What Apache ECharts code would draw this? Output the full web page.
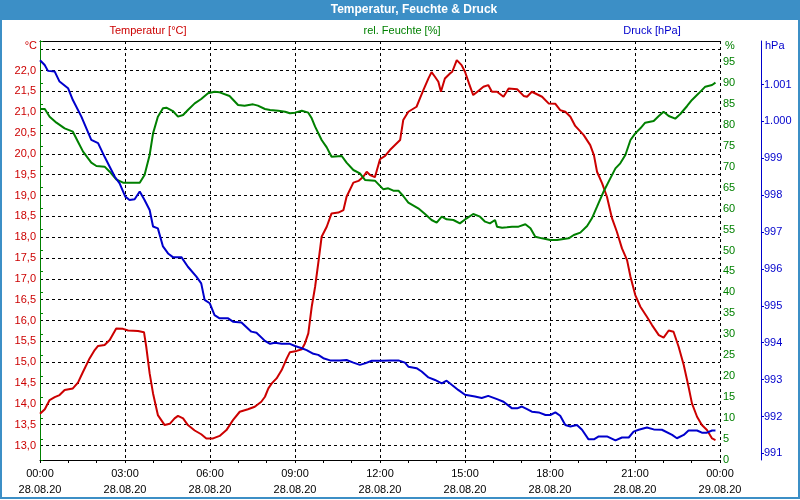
<!DOCTYPE html>
<html><head><meta charset="utf-8">
<script src="https://cdn.jsdelivr.net/npm/echarts@6/dist/echarts.min.js"></script>
<style>html,body{margin:0;padding:0;background:#fff}#c{width:800px;height:500px}</style>
</head><body><div id="c"></div>
<script>
// ---- data (hours since 28.08.20 00:00) ----
const tempHours = [0,0.17,0.34,0.52,0.69,0.87,1.16,1.34,1.52,1.75,1.93,2.05,2.28,2.46,2.69,2.93,3.11,3.46,3.67,3.75,3.87,3.99,4.16,4.40,4.58,4.75,4.87,5.05,5.22,5.46,5.69,5.87,6.11,6.34,6.58,6.81,7.05,7.34,7.58,7.81,
  7.94,8.06,8.18,8.35,8.53,8.71,8.82,9.06,9.24,9.35,9.47,9.59,9.71,9.82,9.94,10.12,10.29,10.53,10.71,10.82,11.06,11.24,11.41,11.53,11.65,11.82,12.0,12.18,12.35,12.53,12.71,12.82,13.0,13.29,13.41,13.53,13.71,13.82,13.94,14.06,14.15,14.29,14.47,14.55,14.71,14.88,15.0,15.14,15.29,15.47,15.65,15.82,
  15.95,16.13,16.36,16.54,16.84,17.07,17.19,17.36,17.54,17.72,17.95,18.19,18.36,18.54,18.72,18.89,19.19,19.42,19.55,19.66,19.84,20.01,20.19,20.36,20.54,20.72,20.84,21.01,21.19,21.42,21.6,21.84,22.01,22.19,22.36,22.54,22.72,22.89,23.01,23.19,23.36,23.54,23.72,23.84];
const tempValues = [13.76,13.87,14.09,14.16,14.21,14.33,14.37,14.51,14.77,15.09,15.29,15.39,15.41,15.53,15.81,15.80,15.76,15.75,15.72,15.37,14.73,14.25,13.73,13.49,13.52,13.65,13.71,13.65,13.49,13.36,13.27,13.17,13.17,13.23,13.37,13.61,13.81,13.87,13.93,14.05,
  14.17,14.37,14.49,14.61,14.81,15.09,15.24,15.27,15.31,15.45,15.69,16.33,16.81,17.37,18.01,18.25,18.57,18.59,18.65,18.97,19.31,19.35,19.45,19.57,19.49,19.44,19.87,19.95,20.09,20.21,20.33,20.81,21.01,21.13,21.33,21.53,21.81,21.96,21.85,21.73,21.49,21.81,21.93,21.97,22.25,22.13,21.97,21.69,21.41,21.51,21.61,21.65,
  21.49,21.49,21.37,21.57,21.55,21.39,21.37,21.49,21.43,21.37,21.21,21.20,21.05,21.01,20.89,20.67,20.45,20.21,19.97,19.57,19.29,18.97,18.45,18.13,17.73,17.45,17.05,16.61,16.33,16.09,15.89,15.65,15.59,15.76,15.73,15.37,14.93,14.41,14.01,13.69,13.49,13.37,13.17,13.13];

const humHours = [0,0.17,0.34,0.58,0.87,1.16,1.34,1.52,1.81,1.99,2.28,2.46,2.69,2.93,3.28,3.52,3.69,3.87,3.99,4.16,4.34,4.46,4.69,4.87,5.05,5.22,5.46,5.69,5.93,6.16,6.34,6.69,6.99,7.22,7.52,7.69,
  7.94,8.12,8.41,8.65,8.82,9.0,9.24,9.47,9.59,9.71,9.94,10.12,10.29,10.65,10.82,11.06,11.29,11.47,11.82,12.12,12.29,12.47,12.65,12.82,13.0,13.35,13.59,13.82,14.0,14.18,14.35,14.59,14.82,15.06,15.29,15.53,15.71,15.88,16.06,
  16.13,16.31,16.48,16.66,16.89,17.13,17.31,17.48,17.72,18.01,18.25,18.48,18.66,18.84,19.07,19.31,19.48,19.66,19.89,20.07,20.31,20.48,20.66,20.84,21.01,21.19,21.36,21.66,21.84,22.01,22.19,22.42,22.6,22.84,23.01,23.25,23.48,23.72,23.84];
const humValues = [83.77,83.77,81.94,80.51,79.16,78.36,75.97,73.59,70.96,70.17,70.01,68.81,66.98,66.19,66.19,66.19,68.02,72.79,77.96,81.94,83.93,84.09,83.29,81.94,82.34,83.53,85.12,86.16,87.51,87.91,87.75,86.87,84.73,84.57,84.88,84.57,
  83.77,83.53,83.37,83.13,82.74,82.90,83.37,82.90,81.54,79.55,76.37,74.62,72.39,72.55,70.96,69.21,68.42,66.83,66.67,64.60,64.84,64.28,64.28,63.01,61.42,60.06,58.71,57.28,56.64,58.07,57.44,57.28,56.48,57.68,58.71,58.07,56.88,56.48,57.28,
  55.69,55.45,55.53,55.69,55.69,56.25,55.29,53.30,52.90,52.51,52.51,52.74,52.90,53.70,54.26,55.85,57.68,60.46,64.04,66.43,69.61,70.80,72.79,76.37,77.96,79.16,80.51,80.91,82.10,83.13,82.10,81.46,82.58,84.49,85.92,87.51,89.10,89.50,90.06];

const pressHours = [0,0.165,0.28,0.52,0.69,0.99,1.16,1.46,1.81,2.05,2.28,2.64,2.81,3.01,3.16,3.34,3.52,3.69,3.87,3.99,4.16,4.34,4.52,4.69,4.99,5.22,5.52,5.69,5.81,5.99,6.16,6.34,6.64,6.81,7.11,7.46,7.64,
  7.94,8.12,8.29,8.53,8.82,9.0,9.24,9.41,9.65,9.82,10.0,10.24,10.59,10.82,11.06,11.29,11.47,11.71,12.06,12.35,12.65,12.88,13.0,13.29,13.47,13.71,13.94,14.18,14.35,14.53,14.76,15.0,15.35,15.59,15.82,
  16.13,16.36,16.66,16.84,17.01,17.19,17.36,17.6,17.84,18.01,18.19,18.36,18.54,18.72,18.95,19.13,19.36,19.55,19.72,20.01,20.31,20.54,20.78,20.95,21.13,21.42,21.66,21.95,22.31,22.48,22.72,22.89,23.19,23.36,23.54,23.72,23.84];
const pressValues = [1001.66,1001.53,1001.37,1001.35,1001.08,1000.90,1000.58,1000.13,999.50,999.41,999.04,998.50,998.32,997.96,997.87,997.89,998.10,997.87,997.60,997.15,997.10,996.61,996.42,996.32,996.32,996.06,995.79,995.61,995.16,995.07,994.75,994.66,994.66,994.57,994.55,994.30,994.27,
  994.05,993.97,994.00,993.97,993.97,993.91,993.85,993.80,993.70,993.67,993.58,993.52,993.52,993.53,993.46,993.40,993.44,993.51,993.51,993.52,993.52,993.46,993.35,993.31,993.22,993.06,992.99,992.90,992.97,992.86,992.72,992.59,992.54,992.50,992.56,
  992.47,992.40,992.22,992.22,992.27,992.20,992.13,992.11,992.04,992.04,992.11,992.02,991.77,991.73,991.77,991.64,991.38,991.38,991.46,991.46,991.35,991.43,991.43,991.59,991.64,991.70,991.65,991.64,991.50,991.41,991.50,991.62,991.62,991.56,991.56,991.62,991.62];

// ---- axis ticks / labels ----
const tempGridValues = [13.0,13.5,14.0,14.5,15.0,15.5,16.0,16.5,17.0,17.5,18.0,18.5,19.0,19.5,20.0,20.5,21.0,21.5,22.0,22.5];
const tempLabelValues = [13.0,13.5,14.0,14.5,15.0,15.5,16.0,16.5,17.0,17.5,18.0,18.5,19.0,19.5,20.0,20.5,21.0,21.5,22.0];
const pressTickValues = [991,992,993,994,995,996,997,998,999,1000,1001];
const timeDates = ['28.08.20','29.08.20'];

const FONT = '"Liberation Sans", Arial, sans-serif';
const RED = '#cc0000', GREEN = '#008000', BLUE = '#0000cc', BAR = '#3c8fc6';
const pair = (hs, vs) => hs.map((h, i) => [h, vs[i]]);
const dash = { color: '#000', type: [3, 3], width: 1 };

const chart = echarts.init(document.getElementById('c'), null, { renderer: 'canvas' });
chart.setOption({
  animation: false,
  backgroundColor: '#fff',
  textStyle: { fontFamily: FONT },
  grid: { left: 40, right: 80, top: 41, bottom: 40 },
  xAxis: [{
    type: 'value', min: 0, max: 24, interval: 3, position: 'bottom',
    axisLine: { show: true, lineStyle: { color: '#000', width: 1 } },
    axisTick: { show: true, length: 3, lineStyle: { color: '#000' } },
    minorTick: { show: true, splitNumber: 3, length: 3, lineStyle: { color: '#000' } },
    axisLabel: {
      color: '#000', fontSize: 11, fontFamily: FONT, lineHeight: 16, margin: 6,
      formatter: v => {
        const hh = String(Math.round(v) % 24).padStart(2, '0');
        return hh + ':00\n' + (v >= 24 ? timeDates[1] : timeDates[0]);
      }
    },
    splitLine: { show: true, lineStyle: dash }
  }, {
    type: 'value', min: 0, max: 24, position: 'top',
    axisLine: { show: true, lineStyle: { color: '#000', width: 1 } },
    axisTick: { show: false }, axisLabel: { show: false }, splitLine: { show: false }
  }],
  yAxis: [{
    type: 'value', position: 'left', min: 12.652, max: 22.708,
    axisLine: { show: true, lineStyle: { color: '#000', width: 1 } },
    axisTick: { show: false, customValues: tempGridValues },
    axisLabel: {
      customValues: tempLabelValues, color: RED, fontSize: 11, fontFamily: FONT, margin: 4,
      formatter: v => v.toFixed(1).replace('.', ',')
    },
    splitLine: { show: true, lineStyle: dash }
  }, {
    type: 'value', position: 'right', min: 0, max: 100, interval: 5,
    axisLine: { show: true, lineStyle: { color: GREEN, width: 1 } },
    axisTick: { show: true, length: 3, lineStyle: { color: GREEN } },
    axisLabel: { color: GREEN, fontSize: 11, fontFamily: FONT, margin: 3, formatter: v => v >= 100 ? '' : String(v) },
    splitLine: { show: false }
  }, {
    type: 'value', position: 'right', offset: 41, min: 990.82, max: 1002.18,
    axisLine: { show: true, lineStyle: { color: BLUE, width: 1 } },
    axisTick: { show: true, length: 3, customValues: pressTickValues, lineStyle: { color: BLUE } },
    axisLabel: {
      customValues: pressTickValues, color: BLUE, fontSize: 11, fontFamily: FONT, margin: 3,
      formatter: v => { const r = Math.round(v); return r >= 1000 ? '1.' + String(r - 1000).padStart(3, '0') : String(r); }
    },
    splitLine: { show: false }
  }],
  series: [
    { name: 'Temperatur [°C]', type: 'line', yAxisIndex: 0, data: pair(tempHours, tempValues),
      showSymbol: false, lineStyle: { color: RED, width: 2 }, itemStyle: { color: RED }, z: 3 },
    { name: 'rel. Feuchte [%]', type: 'line', yAxisIndex: 1, data: pair(humHours, humValues),
      showSymbol: false, lineStyle: { color: GREEN, width: 2 }, itemStyle: { color: GREEN }, z: 4 },
    { name: 'Druck [hPa]', type: 'line', yAxisIndex: 2, data: pair(pressHours, pressValues),
      showSymbol: false, lineStyle: { color: BLUE, width: 2 }, itemStyle: { color: BLUE }, z: 5 }
  ],
  graphic: [
    { type: 'rect', z: 0, shape: { x: 0, y: 0, width: 800, height: 20 }, style: { fill: BAR } },
    { type: 'rect', z: 0, shape: { x: 1, y: 1, width: 798, height: 497 }, style: { fill: 'none', stroke: BAR, lineWidth: 2 } },
    { type: 'text', z: 10, x: 414, y: 10, style: { text: 'Temperatur, Feuchte & Druck', fill: '#fff', font: 'bold 12px ' + FONT, align: 'center', verticalAlign: 'middle' } },
    { type: 'text', z: 10, x: 148, y: 31, style: { text: 'Temperatur [°C]', fill: RED, font: '11px ' + FONT, align: 'center', verticalAlign: 'middle' } },
    { type: 'text', z: 10, x: 402, y: 31, style: { text: 'rel. Feuchte [%]', fill: GREEN, font: '11px ' + FONT, align: 'center', verticalAlign: 'middle' } },
    { type: 'text', z: 10, x: 652, y: 31, style: { text: 'Druck [hPa]', fill: BLUE, font: '11px ' + FONT, align: 'center', verticalAlign: 'middle' } },
    { type: 'text', z: 10, x: 37, y: 46, style: { text: '°C', fill: RED, font: '11px ' + FONT, align: 'right', verticalAlign: 'middle' } },
    { type: 'text', z: 10, x: 725, y: 46, style: { text: '%', fill: GREEN, font: '11px ' + FONT, align: 'left', verticalAlign: 'middle' } },
    { type: 'text', z: 10, x: 765, y: 46, style: { text: 'hPa', fill: BLUE, font: '11px ' + FONT, align: 'left', verticalAlign: 'middle' } }
  ]
});
</script>
</body></html>
